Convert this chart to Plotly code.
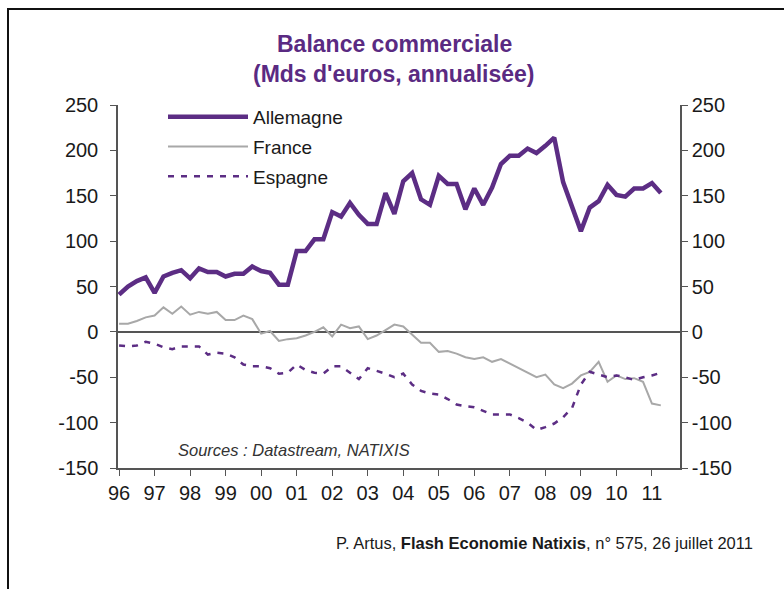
import plotly.graph_objects as go

# Quarterly data, 1996Q1 .. 2011Q2
years = list(range(1996, 2012))
quarters = [y + q / 4 for y in years for q in range(4)][:62]

allemagne = [41, 50, 56, 60, 43, 61, 65, 68, 59, 70, 66, 66, 61, 64, 64, 72,
             67, 65, 52, 52, 89, 89, 102, 102, 132, 127, 142, 129, 119, 119, 153, 130,
             166, 175, 146, 140, 172, 163, 163, 135, 158, 140, 159, 185, 194, 194, 202, 197,
             205, 214, 165, 138, 111, 137, 144, 162, 151, 149, 158, 158, 164, 153]
france = [9, 9, 12, 16, 18, 27, 20, 28, 19, 22, 20, 22, 13, 13, 18, 14,
          -2, 1, -10, -8, -7, -4, 0, 5, -5, 8, 4, 6, -8, -4, 2, 8,
          6, -3, -12, -12, -22, -21, -24, -28, -30, -28, -33, -30, -35, -40, -45, -50,
          -47, -58, -62, -57, -48, -44, -33, -55, -48, -52, -51, -55, -79, -81]
espagne = [-15, -16, -15, -11, -13, -17, -19, -16, -16, -16, -25, -23, -24, -28, -36, -38,
           -38, -40, -46, -45, -36, -42, -45, -46, -38, -38, -45, -52, -40, -43, -46, -50,
           -46, -58, -65, -68, -69, -74, -80, -82, -83, -87, -91, -91, -91, -95, -100, -108,
           -105, -101, -94, -84, -58, -44, -47, -50, -48, -50, -53, -50, -48, -45]

tick_years = years
tick_labels = ["96", "97", "98", "99", "00", "01", "02", "03", "04", "05", "06", "07",
               "08", "09", "10", "11"]
y_ticks = [250, 200, 150, 100, 50, 0, -50, -100, -150]
y_labels = ["250", "200", "150", "100", "50", "0", "-50", "-100", "-150"]

purple = "#5C2D84"
grey = "#A8A8A8"
FONT = "Liberation Sans"

fig = go.Figure()
fig.add_trace(go.Scatter(x=quarters, y=allemagne, name="Allemagne", mode="lines",
                         line=dict(color=purple, width=4.5), legendgroup="a"))
fig.add_trace(go.Scatter(x=quarters, y=france, name="France", mode="lines",
                         line=dict(color=grey, width=2), legendgroup="b"))
fig.add_trace(go.Scatter(x=quarters, y=espagne, name="Espagne", mode="lines",
                         line=dict(color=purple, width=2.5, dash="6px,7px"), legendgroup="c"))
# invisible trace for the right axis
fig.add_trace(go.Scatter(x=quarters, y=allemagne, yaxis="y2", mode="lines",
                         line=dict(width=0), opacity=0, showlegend=False, hoverinfo="skip"))

L, R, T, B = 118, 104, 105, 121
W, H = 784, 589
pw, ph = W - L - R, H - T - B

def px(x):
    return (x - L) / pw

def py(y):
    return (H - B - y) / ph

axis_common = dict(range=[-150, 250], tickvals=y_ticks, ticktext=y_labels, showgrid=False,
                   showline=True, linecolor="#555555", linewidth=1.5,
                   ticks="outside", ticklen=6, tickcolor="#555555",
                   tickfont=dict(family=FONT, size=20, color="#1a1a1a"))

fig.update_layout(
    width=W, height=H,
    margin=dict(l=L, r=R, t=T, b=B),
    plot_bgcolor="white", paper_bgcolor="white",
    xaxis=dict(range=[1995.97, 2011.79], tickvals=tick_years, ticktext=tick_labels,
               showgrid=False, zeroline=False, showline=True, linecolor="#555555",
               linewidth=1.5, ticks="outside", ticklen=6, tickcolor="#555555",
               tickfont=dict(family=FONT, size=20, color="#1a1a1a")),
    yaxis=dict(zeroline=True, zerolinecolor="#555555", zerolinewidth=1.5,
               ticklabelstandoff=8, **axis_common),
    yaxis2=dict(overlaying="y", side="right", zeroline=False, **axis_common),
    showlegend=True,
    legend=dict(x=px(163), y=py(98), xanchor="left", yanchor="top",
                bgcolor="rgba(0,0,0,0)", itemwidth=80, tracegroupgap=2,
                traceorder="grouped",
                font=dict(family=FONT, size=19, color="#1a1a1a")),
    annotations=[
        dict(text="<b>Balance commerciale</b>", x=px(394), y=py(44), xref="paper", yref="paper",
             xanchor="center", yanchor="middle",
             showarrow=False, font=dict(family=FONT, size=23, color="#5A2A82")),
        dict(text="<b>(Mds d'euros, annualisée)</b>", x=px(394), y=py(74), xref="paper",
             yref="paper", xanchor="center", yanchor="middle",
             showarrow=False, font=dict(family=FONT, size=23, color="#5A2A82")),
        dict(text="<i>Sources : Datastream, NATIXIS</i>", x=px(176), y=py(450), xref="paper",
             yref="paper", xanchor="left", yanchor="middle", showarrow=False,
             font=dict(family=FONT, size=16.5, color="#333333")),
        dict(text="P. Artus, <b>Flash Economie Natixis</b>, n° 575, 26 juillet 2011",
             x=px(755), y=py(543), xref="paper", yref="paper", xanchor="right",
             yanchor="middle", showarrow=False,
             font=dict(family=FONT, size=16.5, color="#1a1a1a")),
    ],
    shapes=[
        dict(type="line", xref="paper", yref="paper", x0=px(7), x1=px(784), y0=py(9), y1=py(9),
             line=dict(color="#111111", width=2)),
        dict(type="line", xref="paper", yref="paper", x0=px(8), x1=px(8), y0=py(9), y1=py(589),
             line=dict(color="#111111", width=2)),
    ],
)

fig.write_html("out.html", config={"displayModeBar": False},
               post_script="document.body.style.margin='0';")
